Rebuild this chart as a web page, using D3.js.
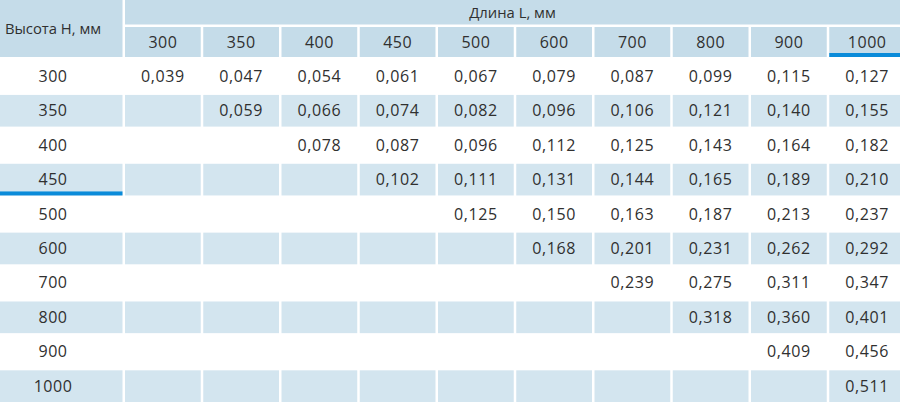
<!DOCTYPE html>
<html>
<head>
<meta charset="utf-8">
<script src="https://cdn.jsdelivr.net/npm/d3@7"></script>
<style>
  body { margin: 0; background: #fff; }
  svg { display: block; }
  text { font-family: "Open Sans", sans-serif; fill: #303030; }
</style>
</head>
<body>
<svg id="chart" width="900" height="405"></svg>
<script>
// table data
let heights = ["300", "350", "400", "450", "500", "600", "700", "800", "900", "1000"];
let lengths = ["300", "350", "400", "450", "500", "600", "700", "800", "900", "1000"];
let rowTitle = "Высота Н, мм";
let colTitle = "Длина L, мм";
// one array per height row, null = empty cell
let row300 = ["0,039", "0,047", "0,054", "0,061", "0,067", "0,079", "0,087", "0,099", "0,115", "0,127"];
let row350 = [null, "0,059", "0,066", "0,074", "0,082", "0,096", "0,106", "0,121", "0,140", "0,155"];
let row400 = [null, null, "0,078", "0,087", "0,096", "0,112", "0,125", "0,143", "0,164", "0,182"];
let row450 = [null, null, null, "0,102", "0,111", "0,131", "0,144", "0,165", "0,189", "0,210"];
let row500 = [null, null, null, null, "0,125", "0,150", "0,163", "0,187", "0,213", "0,237"];
let row600 = [null, null, null, null, null, "0,168", "0,201", "0,231", "0,262", "0,292"];
let row700 = [null, null, null, null, null, null, "0,239", "0,275", "0,311", "0,347"];
let row800 = [null, null, null, null, null, null, null, "0,318", "0,360", "0,401"];
let row900 = [null, null, null, null, null, null, null, null, "0,409", "0,456"];
let row1000 = [null, null, null, null, null, null, null, null, null, "0,511"];
let rows = [row300, row350, row400, row450, row500, row600, row700, row800, row900, row1000];
// highlighted header cells (blue underline)
let markedHeight = "450";
let markedLength = "1000";

const headFill = "#c5dce9";
const rowFill = "#d3e5ef";
const accent = "#0a8bd9";
const numSize = 16;
const titleSize = 14.8;

let svg = d3.select("#chart");

let x = d3.scaleBand().domain(lengths).range([125, 905]).paddingInner(0.032);
let y = d3.scaleBand().domain(heights).range([60.5, 402]).paddingInner(0.08);
let firstColW = 122.5;
let labelX = 53;

// header
let head = svg.append("g").attr("id", "header");
head.append("rect").attr("x", 0).attr("y", 0).attr("width", firstColW).attr("height", 57).attr("fill", headFill);
head.append("rect").attr("x", x(lengths[0])).attr("y", 0).attr("width", 900 - x(lengths[0])).attr("height", 24.5).attr("fill", headFill);
head.append("text").attr("x", labelX).attr("y", 28.5).attr("dy", "0.35em").attr("text-anchor", "middle")
  .attr("font-size", titleSize).text(rowTitle);
head.append("text").attr("x", (x(lengths[0]) + 900) / 2).attr("y", 13).attr("dy", "0.35em").attr("text-anchor", "middle")
  .attr("font-size", titleSize).text(colTitle);

head.selectAll("rect.col")
  .data(lengths)
  .join("rect")
  .attr("class", "col")
  .attr("x", (d) => x(d))
  .attr("y", 27)
  .attr("width", x.bandwidth())
  .attr("height", 30)
  .attr("fill", headFill);
head.selectAll("text.col")
  .data(lengths)
  .join("text")
  .attr("class", "col")
  .attr("x", (d) => x(d) + x.bandwidth() / 2)
  .attr("y", 42)
  .attr("dy", "0.35em")
  .attr("text-anchor", "middle")
  .attr("font-size", numSize)
  .attr("letter-spacing", 0.5)
  .text((d) => d);
head.append("rect").attr("x", x(markedLength)).attr("y", 53).attr("width", x.bandwidth()).attr("height", 4).attr("fill", accent);

// body rows
let body = svg.append("g").attr("id", "body");
let rowG = body.selectAll("g.row")
  .data(heights.map((h, i) => ({ h: h, i: i, cells: rows[i] })))
  .join("g")
  .attr("class", "row")
  .attr("transform", (d) => `translate(0,${y(d.h)})`);

// every second row is shaded, cell by cell
rowG.filter((d) => d.i % 2 == 1).each(function (d) {
  let g = d3.select(this);
  g.append("rect").attr("x", 0).attr("width", firstColW).attr("height", y.bandwidth()).attr("fill", rowFill);
  g.selectAll("rect.cell")
    .data(lengths)
    .join("rect")
    .attr("class", "cell")
    .attr("x", (l) => x(l))
    .attr("width", (l) => Math.min(x.bandwidth(), 900 - x(l)))
    .attr("height", y.bandwidth())
    .attr("fill", rowFill);
});

rowG.append("text")
  .attr("x", labelX)
  .attr("y", y.bandwidth() / 2)
  .attr("dy", "0.35em")
  .attr("text-anchor", "middle")
  .attr("font-size", numSize)
  .attr("letter-spacing", 0.5)
  .text((d) => d.h);

rowG.selectAll("text.val")
  .data((d) => d.cells.map((v, j) => ({ v: v, l: lengths[j] })).filter((c) => c.v != null))
  .join("text")
  .attr("class", "val")
  .attr("x", (c) => x(c.l) + x.bandwidth() / 2)
  .attr("y", y.bandwidth() / 2)
  .attr("dy", "0.35em")
  .attr("text-anchor", "middle")
  .attr("font-size", numSize)
  .attr("letter-spacing", 0.6)
  .text((c) => c.v);

rowG.filter((d) => d.h == markedHeight)
  .append("rect")
  .attr("x", 0)
  .attr("y", y.bandwidth() - 4)
  .attr("width", firstColW)
  .attr("height", 4)
  .attr("fill", accent);
</script>
</body>
</html>
